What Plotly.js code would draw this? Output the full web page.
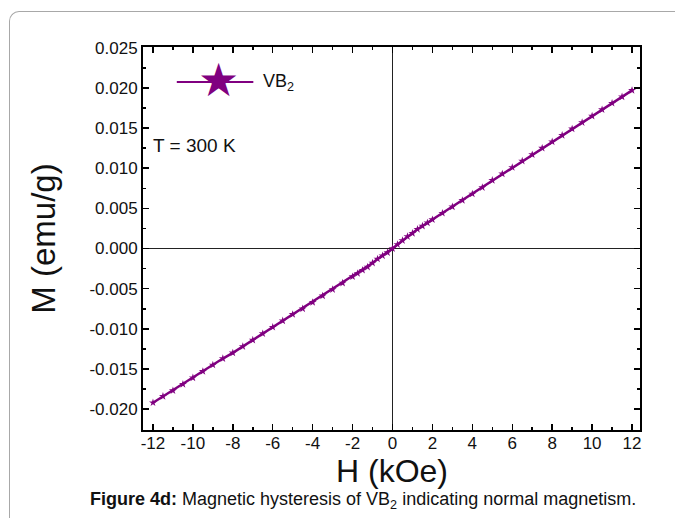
<!DOCTYPE html>
<html>
<head>
<meta charset="utf-8">
<script src="https://cdn.plot.ly/plotly-3.0.1.min.js"></script>
<style>
  html, body { margin:0; padding:0; background:#fff; }
  #wrap { position:relative; width:675px; height:518px; overflow:hidden; }
  #frame { position:absolute; left:9px; top:11px; width:720px; height:600px;
           border-left:1px solid #a8a8a8; border-top:1px solid #a8a8a8;
           border-top-left-radius:10px; pointer-events:none; }
  #chart { position:absolute; left:0; top:0; width:675px; height:518px; }
</style>
</head>
<body>
<div id="wrap">
  <div id="frame"></div>
  <div id="chart"></div>
</div>
<script>
// Field H (kOe) and magnetization M (emu/g)
const fieldH = [-12, -11.5, -11, -10.5, -10, -9.5, -9, -8.5, -8, -7.5, -7, -6.5, -6, -5.5, -5,
  -4.5, -4, -3.5, -3, -2.5, -2, -1.75, -1.5, -1.25, -1, -0.75, -0.5, -0.25, 0,
  0.25, 0.5, 0.75, 1, 1.25, 1.5, 1.75, 2, 2.5, 3, 3.5, 4, 4.5, 5, 5.5, 6, 6.5, 7,
  7.5, 8, 8.5, 9, 9.5, 10, 10.5, 11, 11.5, 12];
const magM = [-0.0192, -0.0184, -0.0177, -0.0169, -0.0161, -0.0153, -0.0145, -0.0137, -0.0130, -0.0122, -0.0114, -0.0106, -0.0098, -0.0090, -0.0082,
  -0.0075, -0.0067, -0.0059, -0.0051, -0.0043, -0.0035, -0.0031, -0.0027, -0.0023, -0.0018, -0.0013, -0.0009, -0.0005, 0.0000,
  0.0005, 0.0010, 0.0015, 0.0019, 0.0024, 0.0028, 0.0032, 0.0036, 0.0044, 0.0052, 0.0060, 0.0068, 0.0076, 0.0085, 0.0093, 0.0101, 0.0109, 0.0117,
  0.0125, 0.0133, 0.0141, 0.0149, 0.0157, 0.0165, 0.0173, 0.0181, 0.0189, 0.0197];

const xTickVals = [-12, -10, -8, -6, -4, -2, 0, 2, 4, 6, 8, 10, 12];
const xTickText = ["-12", "-10", "-8", "-6", "-4", "-2", "0", "2", "4", "6", "8", "10", "12"];
const yTickVals = [-0.020, -0.015, -0.010, -0.005, 0.000, 0.005, 0.010, 0.015, 0.020, 0.025];
const yTickText = ["-0.020", "-0.015", "-0.010", "-0.005", "0.000", "0.005", "0.010", "0.015", "0.020", "0.025"];

const seriesName = "VB<sub>2</sub>";
const tempLabel = "T = 300 K";
const xTitle = "H (kOe)";
const yTitle = "M (emu/g)";
const caption = "<b>Figure 4d:</b> Magnetic hysteresis of VB<sub>2</sub> indicating normal magnetism.";

const purple = "#800080";
const font = "Arial, 'Liberation Sans', sans-serif";
const ink = "#111";

const trace = {
  x: fieldH, y: magM, type: "scatter", mode: "lines+markers", name: seriesName,
  showlegend: false,
  line: { color: purple, width: 2.5 },
  marker: { symbol: "star", size: 6, color: purple }
};

const axisCommon = {
  showline: true, linecolor: "#000", linewidth: 2, mirror: "ticks",
  ticks: "inside", ticklen: 6, tickwidth: 1.5, tickcolor: "#000",
  showgrid: false, zeroline: true, zerolinecolor: "#222", zerolinewidth: 1.8,
  tickfont: { family: font, size: 17, color: ink }, tickmode: "array"
};

const layout = {
  width: 675, height: 518,
  margin: { l: 143, r: 35, t: 47, b: 88 },
  paper_bgcolor: "rgba(0,0,0,0)", plot_bgcolor: "rgba(0,0,0,0)",
  showlegend: false,
  xaxis: Object.assign({}, axisCommon, {
    range: [-12.5, 12.4], tickvals: xTickVals, ticktext: xTickText, ticklabelstandoff: -3,
    minor: { ticks: "inside", ticklen: 3, dtick: 1, tick0: 0, tickcolor: "#000", tickwidth: 1.5 }
  }),
  yaxis: Object.assign({}, axisCommon, {
    range: [-0.0226, 0.0251], tickvals: yTickVals, ticktext: yTickText,
    minor: { ticks: "inside", ticklen: 3, dtick: 0.0025, tick0: 0, tickcolor: "#000", tickwidth: 1.5 },
    title: { text: yTitle, font: { family: font, size: 33, color: ink }, standoff: 24 }
  }),
  shapes: [
    { type: "line", xref: "paper", yref: "paper", x0: 0.068, x1: 0.222, y0: 0.9086, y1: 0.9086,
      line: { color: purple, width: 2 } }
  ],
  annotations: [
    { text: "★", xref: "paper", yref: "paper", x: 0.151, y: 0.9086, xanchor: "center", yanchor: "middle",
      showarrow: false, yshift: 2, font: { family: "DejaVu Sans", size: 46, color: purple } },
    { text: seriesName, xref: "paper", yref: "paper", x: 0.238, y: 0.9086, xanchor: "left", yanchor: "middle",
      showarrow: false, font: { family: font, size: 18, color: ink } },
    { text: tempLabel, xref: "paper", yref: "paper", x: 0.016, y: 0.742, xanchor: "left", yanchor: "middle",
      showarrow: false, font: { family: font, size: 19, color: ink } },
    { text: xTitle, xref: "paper", yref: "paper", x: 0.5, y: -0.106, xanchor: "center", yanchor: "middle",
      showarrow: false, font: { family: font, size: 32, color: ink } },
    { text: caption, xref: "paper", yref: "paper", x: 0.443, y: -0.184, xanchor: "center", yanchor: "middle",
      showarrow: false, font: { family: font, size: 18, color: ink } }
  ]
};

Plotly.newPlot("chart", [trace], layout, { staticPlot: true, displayModeBar: false });
</script>
</body>
</html>
